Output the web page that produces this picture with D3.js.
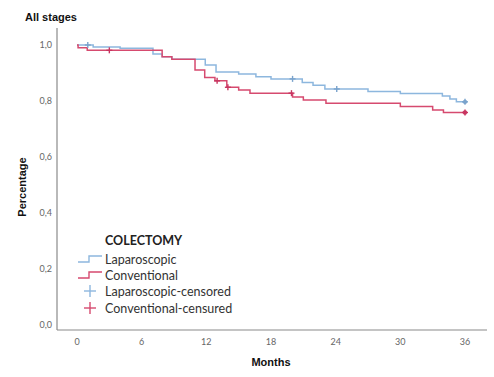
<!DOCTYPE html>
<html><head><meta charset="utf-8">
<script src="https://cdn.jsdelivr.net/npm/d3@7"></script>
<style>body{margin:0;background:#fff}svg{display:block}</style>
</head><body><div id="chart"></div>
<script>
// Kaplan-Meier steps: [month, survival]
const lapSteps = [[0,1.0],[1.5,0.993],[4.0,0.988],[7.05,0.968],[7.9,0.958],[8.8,0.949],[11.9,0.929],[12.9,0.904],[15.0,0.896],[16.6,0.887],[18.0,0.879],[20.9,0.866],[21.9,0.856],[23.0,0.843],[27.0,0.834],[30.0,0.827],[33.9,0.818],[34.6,0.807],[35.2,0.797],[36,0.797]];
const conSteps = [[0,1.0],[0.1,0.990],[0.95,0.981],[7.9,0.958],[8.8,0.949],[10.95,0.911],[11.85,0.884],[12.8,0.872],[13.9,0.849],[15.0,0.839],[16.05,0.828],[20.0,0.814],[21.0,0.804],[23.1,0.792],[30.0,0.780],[33.0,0.768],[34.0,0.759],[36,0.759]];
const lapCensored = [[1.0,1.0],[20.0,0.879],[24.1,0.843],[36,0.797]];
const conCensored = [[3.0,0.981],[13.0,0.872],[14.0,0.849],[19.9,0.828],[36,0.759]];
const xTicks = [0,6,12,18,24,30,36];
const yTicks = [0,0.2,0.4,0.6,0.8,1.0];
const legendLabels = ["Laparoscopic","Conventional","Laparoscopic-censored","Conventional-censured"];
const colors = {lap:"#8db7de", con:"#d64a6f"};

const W=494,H=377;
const svg=d3.select("#chart").append("svg").attr("width",W).attr("height",H);
const x=d3.scaleLinear().domain([0,36]).range([77,465]);
const y=d3.scaleLinear().domain([0,1]).range([325,45]);
const font="Lato, 'Open Sans', sans-serif";

// axes lines
svg.append("line").attr("x1",57).attr("x2",57).attr("y1",28).attr("y2",330).attr("stroke","#8a8a8a").attr("stroke-width",1.2);
svg.append("line").attr("x1",57).attr("x2",487).attr("y1",330).attr("y2",330).attr("stroke","#8a8a8a").attr("stroke-width",1.2);

// tick labels
const fmt=d=>d3.format(".1f")(d).replace(".",",");
svg.selectAll("text.yt").data(yTicks).enter().append("text")
  .attr("x",52).attr("y",d=>y(d)+3).attr("text-anchor","end")
  .attr("font-family",font).attr("font-size",9).attr("fill","#666").text(fmt);
svg.selectAll("text.xt").data(xTicks).enter().append("text")
  .attr("x",d=>x(d)).attr("y",345).attr("text-anchor","middle")
  .attr("font-family",font).attr("font-size",9).attr("fill","#666").text(d=>d);

// titles
svg.append("text").attr("x",25).attr("y",21).attr("font-family","Arial, 'Liberation Sans', sans-serif").attr("font-weight","bold").attr("font-size",11).attr("fill","#111").text("All stages");
svg.append("text").attr("x",271).attr("y",366).attr("text-anchor","middle").attr("font-family","Arial, 'Liberation Sans', sans-serif").attr("font-weight","bold").attr("font-size",11).attr("fill","#111").text("Months");
svg.append("text").attr("transform","translate(26,187) rotate(-90)").attr("text-anchor","middle").attr("font-family","Arial, 'Liberation Sans', sans-serif").attr("font-weight","bold").attr("font-size",11).attr("fill","#111").text("Percentage");

// curves
const line=d3.line().x(d=>x(d[0])).y(d=>y(d[1])).curve(d3.curveStepAfter);
svg.append("path").datum(lapSteps).attr("d",line).attr("fill","none").attr("stroke",colors.lap).attr("stroke-width",1.5);
svg.append("path").datum(conSteps).attr("d",line).attr("fill","none").attr("stroke",colors.con).attr("stroke-width",1.5);

function plus(g,px,py,s,c){
  g.append("line").attr("x1",px-s).attr("x2",px+s).attr("y1",py).attr("y2",py).attr("stroke",c).attr("stroke-width",1.4);
  g.append("line").attr("x1",px).attr("x2",px).attr("y1",py-s).attr("y2",py+s).attr("stroke",c).attr("stroke-width",1.4);
}
const cg=svg.append("g");
lapCensored.forEach(d=>plus(cg,x(d[0]),y(d[1]),3,"#7aa3cc"));
conCensored.forEach(d=>plus(cg,x(d[0]),y(d[1]),3,"#c83560"));
// end dots
cg.append("circle").attr("cx",x(36)).attr("cy",y(lapCensored[3][1])).attr("r",2.2).attr("fill","#7aa3cc");
cg.append("circle").attr("cx",x(36)).attr("cy",y(conCensored[4][1])).attr("r",2.2).attr("fill","#c83560");

// legend
const lg=svg.append("g");
lg.append("text").attr("x",105).attr("y",245).attr("font-family",font).attr("font-weight","bold").attr("font-size",12.5).attr("fill","#222").text("COLECTOMY");
const ly=[260,276,292,309];
legendLabels.forEach((t,i)=>{
  lg.append("text").attr("x",105).attr("y",ly[i]+4).attr("font-family",font).attr("font-size",12.5).attr("fill","#333").text(t);
});
const stepIcon=(yy,c)=>lg.append("path").attr("d",`M78,${yy+3}H89V${yy-3}H102`).attr("fill","none").attr("stroke",c).attr("stroke-width",1.4);
stepIcon(ly[0]-1,colors.lap);
stepIcon(ly[1]-1,colors.con);
plus(lg,90,ly[2]-1,6,colors.lap);
plus(lg,90,ly[3]-1,6,colors.con);
</script></body></html>
